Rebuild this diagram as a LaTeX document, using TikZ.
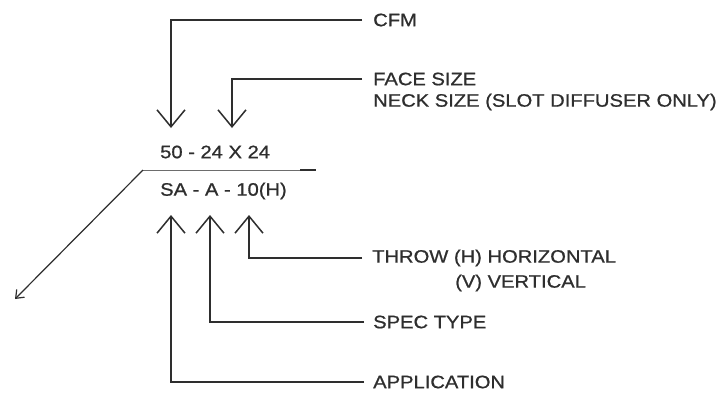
\documentclass[tikz,border=0pt]{standalone}
\usepackage{fontspec}
\setmainfont[FakeStretch=1.12,FakeBold=0.8]{Liberation Sans}
\usetikzlibrary{arrows.meta}
\definecolor{ink}{HTML}{2E2E2E}
\tikzset{
  lbl/.style={anchor=west, inner sep=0pt, text=ink, font=\fontsize{18}{20}\selectfont},
  code/.style={anchor=west, inner sep=0pt, text=ink, font=\fontsize{18}{20}\selectfont},
  lead/.style={draw=ink, line width=1.5pt},
  bigarrow/.style={lead, -{Straight Barb[length=17pt, width=28pt, line width=1.5pt]}},
  smallarrow/.style={draw=ink, line width=1.2pt, -{Straight Barb[length=7pt, width=11pt, line width=1.2pt]}}
}
\begin{document}
\begin{tikzpicture}[x=1pt,y=-1pt]
\useasboundingbox[fill=white] (0,0) rectangle (722,397);
% code text
\node[code] (top) at (160,152) {50 - 24 X 24};
\node[code] (bot) at (160,191) {SA - A - 10(H)};
% labels
\node[lbl] (cfm) at (373,20) {CFM};
\node[lbl] (face) at (373,79) {FACE SIZE};
\node[lbl] (neck) at (373,102) {NECK SIZE (SLOT DIFFUSER ONLY)};
\node[lbl] (throw) at (372,258) {THROW (H) HORIZONTAL};
\node[lbl] (vert) at (455,283) {(V) VERTICAL};
\node[lbl] (spec) at (373,322) {SPEC TYPE};
\node[lbl] (app) at (373,382) {APPLICATION};
% coordinates
\coordinate (cfmtip) at (171,128);
\coordinate (facetip) at (232,128);
\coordinate (apptip) at (171,215);
\coordinate (spectip) at (210,215);
\coordinate (throwtip) at (249,215);
\coordinate (ulstart) at (143,170);
\coordinate (ulend) at (300,170);
\coordinate (ulend2) at (316,170);
\coordinate (diagtip) at (15,299);
% leaders
\draw[bigarrow] ([xshift=-11pt]cfm.west) -- (cfmtip |- cfm.west) -- (cfmtip);
\draw[bigarrow] ([xshift=-11pt]face.west) -- (facetip |- face.west) -- (facetip);
\draw[bigarrow] ([xshift=-10pt]throw.west) -- (throwtip |- throw.west) -- (throwtip);
\draw[bigarrow] ([xshift=-9pt]spec.west) -- (spectip |- spec.west) -- (spectip);
\draw[bigarrow] ([xshift=-9pt]app.west) -- (apptip |- app.west) -- (apptip);
% underline and diagonal
\draw[draw=ink!70, line width=0.8pt] (ulstart) -- (ulend);
\draw[draw=ink, line width=1.6pt] (ulend) -- (ulend2);
\draw[smallarrow] (ulstart) -- (diagtip);
\end{tikzpicture}
\end{document}
